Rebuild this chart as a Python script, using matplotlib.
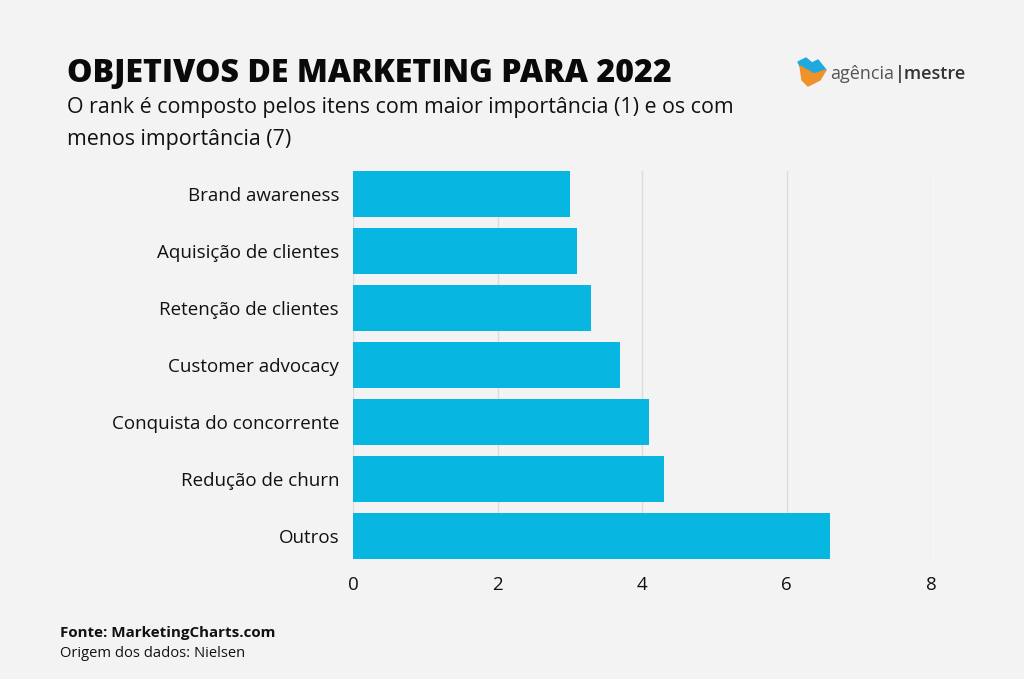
import matplotlib
matplotlib.use("Agg")
import matplotlib.pyplot as plt
from matplotlib.patches import Polygon

categories = ["Brand awareness", "Aquisição de clientes", "Retenção de clientes",
              "Customer advocacy", "Conquista do concorrente", "Redução de churn", "Outros"]
values = [3.0, 3.1, 3.3, 3.7, 4.1, 4.3, 6.6]
xticks = [0, 2, 4, 6, 8]

BG = "#f3f3f3"
BAR = "#08b7e1"
FONT = ["Open Sans", "DejaVu Sans"]

fig = plt.figure(figsize=(10.24, 6.79), dpi=100, facecolor=BG)
ax = fig.add_axes([353/1024, 1-559/679, 578/1024, 388/679], facecolor=BG)

bh = 0.807
y = list(range(len(categories)))
ax.barh(y, values, height=bh, color=BAR, zorder=3)
ax.set_ylim(len(categories)-1+bh/2, -bh/2)
ax.set_xlim(0, 8)
ax.set_xticks(xticks)
ax.set_xticklabels([str(t) for t in xticks], fontsize=13.5, family=FONT, color="#111111")
ax.set_yticks(y)
ax.set_yticklabels(categories, fontsize=13.5, family=FONT, color="#111111")
ax.tick_params(axis="both", length=0)
ax.tick_params(axis="y", pad=10)
ax.tick_params(axis="x", pad=12)
for s in ax.spines.values():
    s.set_visible(False)
ax.grid(axis="x", color="#dcdcdc", linewidth=1, zorder=0)

fig.text(67/1024, 1-82/679, "OBJETIVOS DE MARKETING PARA 2022", fontsize=23,
         fontweight="heavy", family=FONT, color="#0a0a0a", va="baseline")
fig.text(67/1024, 1-113/679, "O rank é composto pelos itens com maior importância (1) e os com",
         fontsize=15.4, family=FONT, color="#111111", va="baseline")
fig.text(67/1024, 1-145/679, "menos importância (7)",
         fontsize=15.4, family=FONT, color="#111111", va="baseline")

fig.text(60/1024, 1-637/679, "Fonte: MarketingCharts.com", fontsize=10.9,
         fontweight="bold", family=FONT, color="#111111", va="baseline")
fig.text(60/1024, 1-657/679, "Origem dos dados: Nielsen", fontsize=10.6,
         family=FONT, color="#111111", va="baseline")

# logo
W, H = 1024, 679
def P(pts):
    return [(x/W, 1-yy/H) for x, yy in pts]
fig.patches.append(Polygon(P([(798, 62), (806, 58), (812, 63), (818, 60), (826, 70), (814, 74), (800, 66)]),
                           closed=True, transform=fig.transFigure, color="#1fa9dc"))
fig.patches.append(Polygon(P([(800, 66), (814, 74), (826, 70), (820, 80), (808, 86), (802, 80)]),
                           closed=True, transform=fig.transFigure, color="#f0922b"))
fig.text(830/1024, 1-79/679, "agência", fontsize=13, family=FONT, color="#555555", va="baseline")
fig.text(895/1024, 1-79/679, "|mestre", fontsize=13, family=FONT, color="#333333",
         va="baseline", fontweight="semibold")

fig.savefig("out.png", dpi=100, facecolor=BG)
